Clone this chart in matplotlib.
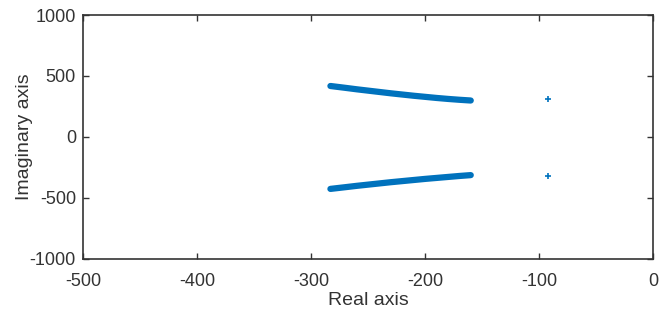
"""Root locus style pole plot"""
import matplotlib.pyplot as plt

plt.rcParams["font.family"] = ["Liberation Sans", "DejaVu Sans"]
plt.rcParams["axes.unicode_minus"] = False

# pole positions
re_upper = [-283, -270, -260, -250, -240, -230, -220, -210, -200, -190, -180, -170, -160]
im_upper = [418, 403, 391, 380, 369, 358, 348, 338, 329, 320, 312, 305, 299]
re_lower = [-283, -270, -260, -250, -240, -230, -220, -210, -200, -190, -180, -170, -160]
im_lower = [-426, -412, -401, -391, -381, -371, -362, -353, -344, -336, -328, -320, -313]
re_single = [-92, -92]
im_single = [312, -317]

blue = "#0072BD"
dark = "#333333"

fig = plt.figure(figsize=(6.68, 3.2), dpi=100)
ax = fig.add_axes([0.124, 0.191, 0.854, 0.762])
ax.plot(re_upper, im_upper, color=blue, lw=4.5, solid_capstyle="round")
ax.plot(re_lower, im_lower, color=blue, lw=4.5, solid_capstyle="round")
ax.plot(re_single, im_single, ls="none", marker="+", color=blue, ms=4, mew=1.2)

ax.set_xlim(-500, 0)
ax.set_ylim(-1000, 1000)
ax.set_xticks(range(-500, 1, 100))
ax.set_yticks(range(-1000, 1001, 500))
ax.tick_params(direction="in", top=True, right=True, labelsize=13,
               length=4, width=1, color=dark, labelcolor=dark)
ax.tick_params(axis="x", pad=10)
ax.tick_params(axis="y", pad=5)
for s in ax.spines.values():
    s.set_linewidth(1.2)
    s.set_color(dark)
ax.set_xlabel("Real axis", fontsize=14, color=dark)
ax.set_ylabel("Imaginary axis", fontsize=14, color=dark)
ax.xaxis.set_label_coords(0.5, -0.135)
ax.yaxis.set_label_coords(-0.088, 0.5)

plt.savefig("out.png", dpi=100)
